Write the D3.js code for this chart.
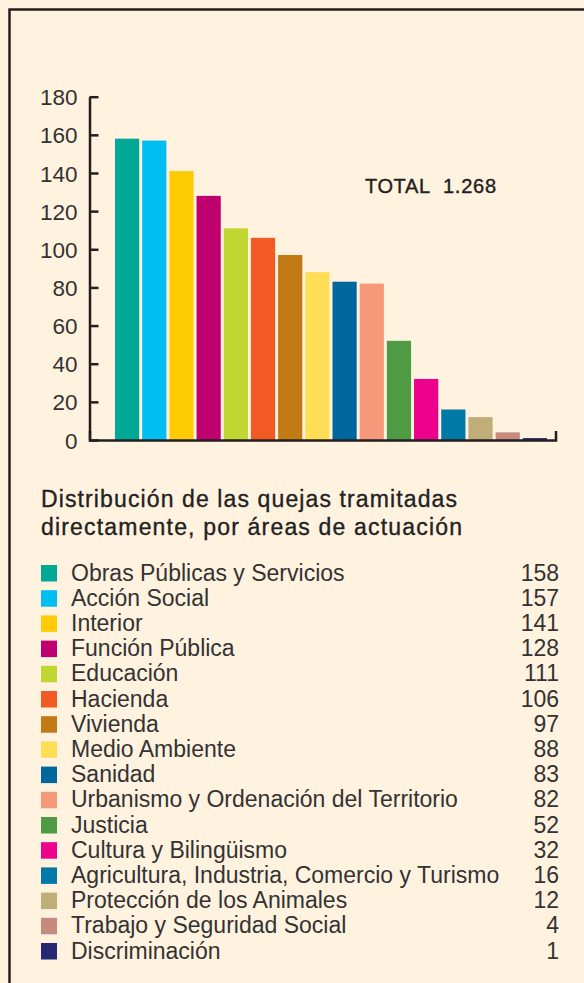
<!doctype html>
<html>
  <head>
    <meta charset="utf-8">
    <title>Quejas</title>
    <script src="https://cdn.jsdelivr.net/npm/d3@7"></script>
    <style>
      body { margin: 0; background: #fff2df; }
      svg { display: block; }
    </style>
  </head>
  <body>
    <script>
      const width = 584;
      const height = 983;

      // datos
      const areas = [
        'Obras Públicas y Servicios', 'Acción Social', 'Interior', 'Función Pública',
        'Educación', 'Hacienda', 'Vivienda', 'Medio Ambiente', 'Sanidad',
        'Urbanismo y Ordenación del Territorio', 'Justicia', 'Cultura y Bilingüismo',
        'Agricultura, Industria, Comercio y Turismo', 'Protección de los Animales',
        'Trabajo y Seguridad Social', 'Discriminación'
      ];
      const quejas = [158, 157, 141, 128, 111, 106, 97, 88, 83, 82, 52, 32, 16, 12, 4, 1];
      const colores = [
        '#00a896', '#00bdf2', '#ffcb05', '#bf006f', '#c0d731', '#f15a24', '#c27a15',
        '#ffdd55', '#00679d', '#f6987a', '#4f9b43', '#ec008c', '#0079a6', '#bfae78',
        '#c78b7e', '#262873'
      ];
      const yTicks = [0, 20, 40, 60, 80, 100, 120, 140, 160, 180];
      const titulo = ['Distribución de las quejas tramitadas', 'directamente, por áreas de actuación'];
      const total = ['TOTAL', '1.268'];

      const font = '"Liberation Sans", Arial, Helvetica, sans-serif';
      const ink = '#231f20';

      const svg = d3.select('body').append('svg')
          .attr('width', width)
          .attr('height', height)
          .style('font-family', font);

      svg.append('rect')
          .attr('width', width).attr('height', height)
          .attr('fill', '#fff2df');

      // marco
      svg.append('rect')
          .attr('x', 9.5).attr('y', 9.5)
          .attr('width', 620).attr('height', 1020)
          .attr('fill', 'none')
          .attr('stroke', ink)
          .attr('stroke-width', 2.5);

      // escalas
      const y = d3.scaleLinear().domain([0, 180]).range([440, 96.7]);
      const x = d3.scaleBand().domain(areas).range([115, 547]).paddingInner(0.11).paddingOuter(0);

      // barras
      svg.append('g')
        .selectAll('rect')
        .data(quejas)
        .enter().append('rect')
          .attr('x', (d, i) => x(areas[i]))
          .attr('y', d => y(d))
          .attr('width', x.bandwidth())
          .attr('height', d => y(0) - y(d))
          .attr('fill', (d, i) => colores[i]);

      // eje Y
      const yAxis = svg.append('g')
          .attr('transform', 'translate(89.5,0)')
          .call(d3.axisLeft(y).tickValues(yTicks).tickSize(-9).tickSizeOuter(0).tickPadding(12));
      yAxis.selectAll('line, path').attr('stroke', ink).attr('stroke-width', 2.5);
      yAxis.selectAll('text')
          .attr('fill', '#333')
          .style('font-family', font)
          .style('font-size', '22.5px')
          .attr('dy', '0.36em');

      // eje X
      const xLine = d3.scaleLinear().range([89.5, 555.5]);
      const xAxis = svg.append('g')
          .attr('transform', 'translate(0,440)')
          .call(d3.axisBottom(xLine).tickValues([]).tickSizeOuter(-9));
      xAxis.select('path').attr('stroke', ink).attr('stroke-width', 2.5);

      // total
      svg.append('text')
          .attr('x', 365).attr('y', 193)
          .attr('fill', ink)
          .style('font-size', '20px')
          .attr('stroke', ink).attr('stroke-width', 0.4)
          .attr('textLength', 65)
          .text(total[0]);
      svg.append('text')
          .attr('x', 443).attr('y', 193)
          .attr('fill', ink)
          .style('font-size', '20px')
          .attr('stroke', ink).attr('stroke-width', 0.4)
          .attr('textLength', 53)
          .text(total[1]);

      // titulo de la leyenda
      svg.append('g')
        .selectAll('text')
        .data(titulo)
        .enter().append('text')
          .attr('x', 41)
          .attr('y', (d, i) => 506.5 + i * 28.5)
          .attr('fill', '#222')
          .attr('stroke', '#222').attr('stroke-width', 0.35)
          .style('font-size', '23px')
          .attr('textLength', (d, i) => [416, 421][i])
          .attr('lengthAdjust', 'spacing')
          .text(d => d);

      // leyenda
      const rowH = 25.2;
      const rows = svg.append('g')
        .selectAll('g')
        .data(areas)
        .enter().append('g')
          .attr('transform', (d, i) => `translate(0,${565 + i * rowH})`);

      rows.append('rect')
          .attr('x', 41).attr('y', 0)
          .attr('width', 16).attr('height', 16.5)
          .attr('fill', (d, i) => colores[i]);

      rows.append('text')
          .attr('x', 71).attr('y', 15.5)
          .attr('fill', '#333')
          .style('font-size', '23px')
          .text(d => d);

      rows.append('text')
          .attr('x', 559).attr('y', 15.5)
          .attr('text-anchor', 'end')
          .attr('fill', '#333')
          .style('font-size', '23px')
          .text((d, i) => quejas[i]);
    </script>
  </body>
</html>
